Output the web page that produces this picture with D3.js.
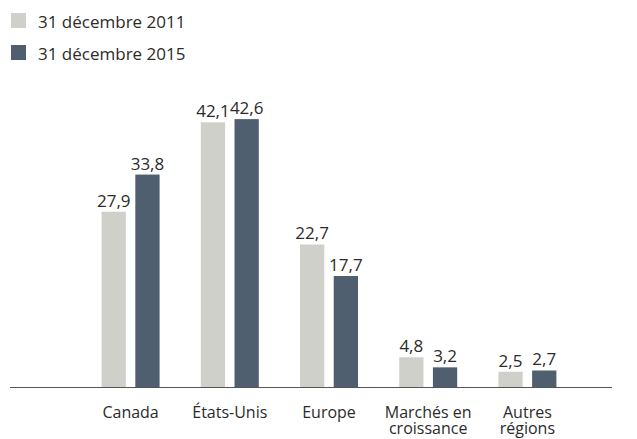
<!DOCTYPE html>
<html>
<head>
<meta charset="utf-8">
<script src="https://cdn.jsdelivr.net/npm/d3@7"></script>
<style>
  body { margin: 0; background: #fff; }
  text { font-family: "Open Sans", sans-serif; fill: #2b2b2b; }
</style>
</head>
<body>
<div id="chart"></div>
<script>
var categories = ["Canada", "États-Unis", "Europe", "Marchés en\ncroissance", "Autres\nrégions"];
var seriesNames = ["31 décembre 2011", "31 décembre 2015"];
var values2011 = [27.9, 42.1, 22.7, 4.8, 2.5];
var values2015 = [33.8, 42.6, 17.7, 3.2, 2.7];
var colors = ["#d0d0cb", "#4f5f70"];

function init() {
    var W = 637, H = 439;
    var baseY = 387.5;

    var svg = d3.select("#chart").append("svg")
        .attr("width", W)
        .attr("height", H);

    var x0 = d3.scaleBand()
        .domain(categories)
        .range([81, 577])
        .paddingInner(0)
        .paddingOuter(0);

    var x1 = d3.scaleBand()
        .domain([0, 1])
        .range([0, 58])
        .paddingInner(0.28)
        .paddingOuter(0);

    var y = d3.scaleLinear()
        .domain([0, 45])
        .range([baseY, baseY - 45 * 6.3]);

    var data = categories.map(function(c, i) {
        return {cat: c, vals: [values2011[i], values2015[i]]};
    });

    var groups = svg.selectAll("g.grp")
        .data(data)
        .enter().append("g")
        .attr("class", "grp")
        .attr("transform", function(d) {
            return "translate(" + (x0(d.cat) + x0.bandwidth() / 2 - 29) + ",0)";
        });

    groups.selectAll("rect")
        .data(function(d) { return d.vals; })
        .enter().append("rect")
        .attr("x", function(d, i) { return x1(i); })
        .attr("y", function(d) { return y(d); })
        .attr("width", x1.bandwidth())
        .attr("height", function(d) { return baseY - y(d); })
        .attr("fill", function(d, i) { return colors[i]; });

    groups.selectAll("text.val")
        .data(function(d) { return d.vals; })
        .enter().append("text")
        .attr("class", "val")
        .attr("x", function(d, i) { return x1(i) + x1.bandwidth() / 2; })
        .attr("y", function(d) { return y(d) - 5; })
        .attr("text-anchor", "middle")
        .style("font-size", "17px")
        .text(function(d) { return d.toFixed(1).replace(".", ","); });

    // baseline
    svg.append("line")
        .attr("x1", 10)
        .attr("x2", 612)
        .attr("y1", baseY)
        .attr("y2", baseY)
        .attr("stroke", "#555")
        .attr("stroke-width", 1);

    // category labels, one text per line
    var lines = [];
    categories.forEach(function(c) {
        c.split("\n").forEach(function(t, j) {
            lines.push({cat: c, text: t, row: j});
        });
    });

    svg.selectAll("text.cat")
        .data(lines)
        .enter().append("text")
        .attr("class", "cat")
        .attr("x", function(d) { return x0(d.cat) + x0.bandwidth() / 2; })
        .attr("y", function(d) { return 418 + d.row * 16; })
        .attr("text-anchor", "middle")
        .style("font-size", "16px")
        .text(function(d) { return d.text; });

    // legend
    var leg = svg.selectAll("g.leg")
        .data(seriesNames)
        .enter().append("g")
        .attr("class", "leg")
        .attr("transform", function(d, i) { return "translate(11," + (13 + i * 32) + ")"; });

    leg.append("rect")
        .attr("width", 15)
        .attr("height", 15)
        .attr("fill", function(d, i) { return colors[i]; });

    leg.append("text")
        .attr("x", 27)
        .attr("y", 15)
        .style("font-size", "17px")
        .text(function(d) { return d; });
}
init();
</script>
</body>
</html>
